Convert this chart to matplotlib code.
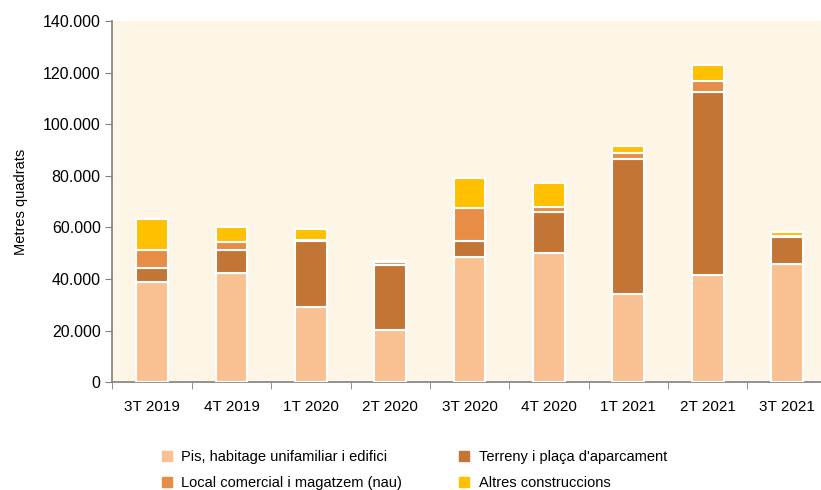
import matplotlib.pyplot as plt
import numpy as np
from matplotlib.ticker import FuncFormatter
from matplotlib.lines import Line2D

plt.rcParams['font.family'] = ['Liberation Sans', 'DejaVu Sans']

quarters = ["3T 2019", "4T 2019", "1T 2020", "2T 2020", "3T 2020",
            "4T 2020", "1T 2021", "2T 2021", "3T 2021"]
pis = [38700, 42200, 29200, 20200, 48600, 49900, 34000, 41500, 46000]
terreny = [5600, 9000, 25500, 25400, 6200, 16100, 52700, 71100, 10300]
local = [6900, 3000, 500, 1000, 12600, 2000, 2000, 4100, 300]
altres = [11900, 6000, 4300, 400, 11600, 9100, 2800, 6200, 1700]

series = [
    ("Pis, habitage unifamiliar i edifici", pis, "#F9C192"),
    ("Terreny i plaça d'aparcament", terreny, "#C27535"),
    ("Local comercial i magatzem (nau)", local, "#E88D45"),
    ("Altres construccions", altres, "#FFC000"),
]

fig = plt.figure(figsize=(8.21, 4.9), dpi=100)
ax = fig.add_axes([0.137, 0.22, 0.87, 0.737])
ax.set_facecolor("#FDF5E6")

x = np.arange(len(quarters))
bottom = np.zeros(len(quarters))
for name, vals, col in series:
    ax.bar(x, vals, 0.4, bottom=bottom, color=col, edgecolor="white",
           linewidth=1.5, label=name, zorder=3)
    bottom += np.array(vals)

ax.set_xlim(-0.5, len(quarters) - 0.5)
ax.set_ylim(0, 140000)
ax.set_yticks(np.arange(0, 140001, 20000))
ax.yaxis.set_major_formatter(FuncFormatter(lambda v, p: f"{int(v):,}".replace(",", ".")))
ax.set_xticks(x)
ax.set_xticklabels(quarters)
ax.set_xticks(np.arange(-0.5, len(quarters), 1), minor=True)
ax.tick_params(axis="x", which="major", length=0, labelsize=11, pad=13)
ax.tick_params(axis="x", which="minor", length=5, color="#808080")
ax.tick_params(axis="y", length=5, color="#808080", labelsize=11.5)
for s in ["top", "right"]:
    ax.spines[s].set_visible(False)
for s in ["left", "bottom"]:
    ax.spines[s].set_color("#808080")
    ax.spines[s].set_linewidth(1.2)
ax.set_ylabel("Metres quadrats", fontsize=10.5, labelpad=11)

handles = [Line2D([], [], marker="s", linestyle="", markersize=7,
                  color=col, label=name) for name, _, col in series]
order = [0, 2, 1, 3]
fig.legend([handles[i] for i in order], [series[i][0] for i in order],
           loc="lower left", bbox_to_anchor=(0.178, -0.026), ncol=2,
           frameon=False, fontsize=10.5, columnspacing=3.75, handletextpad=0.5,
           labelspacing=0.8, handlelength=1.0)

fig.savefig("out.png", dpi=100)
